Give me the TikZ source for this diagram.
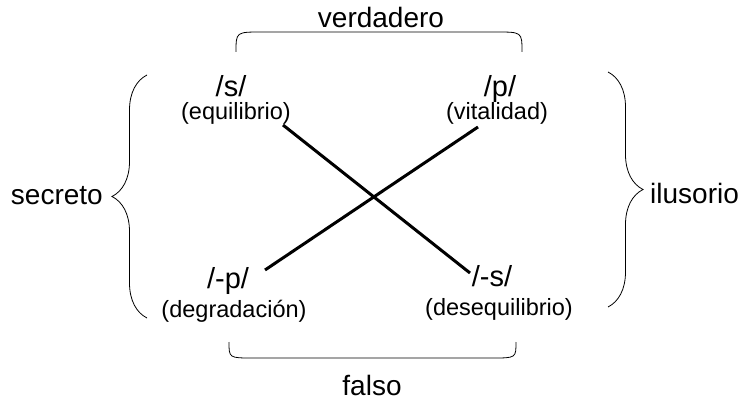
\documentclass[tikz,border=0pt]{standalone}
\usepackage{fontspec}
\setmainfont{Liberation Sans}
\usetikzlibrary{decorations.pathreplacing}

\tikzset{
  big/.style={font=\fontsize{28}{30}\selectfont, inner sep=0pt},
  phon/.style={font=\fontsize{29}{31}\selectfont, inner sep=0pt, anchor=base},
  gloss/.style={font=\fontsize{23.5}{25}\selectfont, inner sep=0pt, anchor=base},
  cross/.style={line width=3pt},
  bracket/.style={line width=0.8pt},
  curly/.style={bracket, decorate, decoration={brace, amplitude=35pt}}
}

\begin{document}
\begin{tikzpicture}[x=1pt,y=-1pt]
  \useasboundingbox (0,0) rectangle (744,403);

  % CORNERS
  \node[phon]  (s)     at (231,97)  {/s/};
  \node[gloss] (equil) at (236,120) {(equilibrio)};

  \node[phon]  (p)     at (500,97)  {/p/};
  \node[gloss] (vital) at (497,120) {(vitalidad)};

  \node[phon]  (np)    at (228,288) {/-p/};
  \node[gloss] (degr)  at (234,317) {(degradación)};

  \node[phon]  (ns)    at (492,287) {/-s/};
  \node[gloss] (deseq) at (499,316) {(desequilibrio)};

  % SIDES
  \node[big, anchor=base]      (verd) at (381,28)  {verdadero};
  \node[big, anchor=base]      (fals) at (372,395) {falso};
  \node[big, anchor=base east] (secr) at (103,205) {secreto};
  \node[big, anchor=base west] (ilus) at (650,204) {ilusorio};

  % ENDS OF THE CROSS
  \coordinate (eqend) at (283,125);
  \coordinate (nsend) at (470,273);
  \coordinate (vtend) at (478,127);
  \coordinate (npend) at (265,270);

  % BRACKETS
  \draw[bracket] (236,52) .. controls (236,32) .. (262,32) -- (496,32)
    .. controls (522,32) .. (522,52);
  \draw[bracket] (229,342) .. controls (229,358) .. (253,358) -- (492,358)
    .. controls (516,358) .. (516,342);
  \draw[curly] (147,318) -- (147,75);
  \draw[curly] (608,72) -- (608,307);

  % LINES
  \draw[cross] (eqend) -- (nsend);
  \draw[cross] (vtend) -- (npend);
\end{tikzpicture}
\end{document}
